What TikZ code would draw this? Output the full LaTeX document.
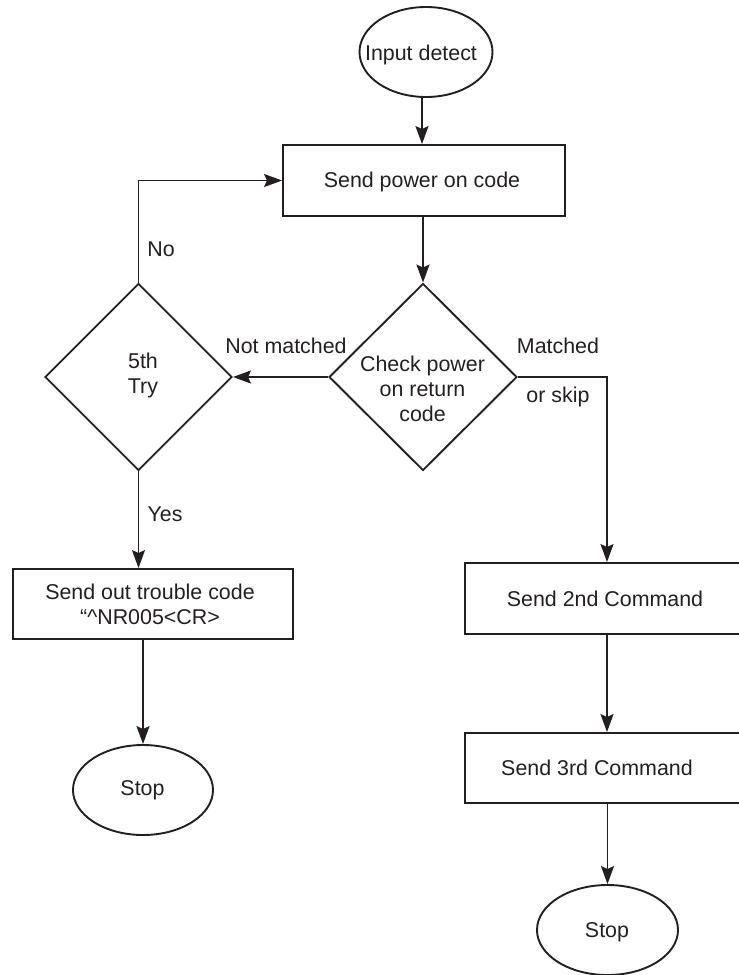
\documentclass[tikz,border=0pt]{standalone}
\usepackage{fontspec}
\setmainfont{Liberation Sans}
\usetikzlibrary{shapes.geometric,arrows.meta}
\definecolor{ink}{HTML}{231F20}
\begin{document}
\begin{tikzpicture}[x=1pt,y=-1pt,
  every node/.style={font=\fontsize{21.4}{25}\selectfont, text=ink, inner sep=0pt},
  line/.style={line width=1.9pt, draw=ink},
  flow/.style={line, -{Stealth[length=18pt,width=13pt,inset=3pt]}},
  term/.style={line, ellipse, minimum width=140pt, minimum height=90pt},
  stepbox/.style={line, rectangle, minimum width=280pt, minimum height=70pt},
  decision/.style={line, diamond, minimum width=188pt, minimum height=187pt},
  tag/.style={anchor=center}
]
\useasboundingbox (0,0) rectangle (739,975);
\clip (0,0) rectangle (739,975);

% start and main path
\node[term, minimum width=133pt] (start) at (426,52) {};
\node (startT) at (421,55) {Input detect};
\node[stepbox, minimum width=282pt, minimum height=71pt] (power) at (424,180.5) {};
\node (powerT) at (422,182) {Send power on code};
\node[decision] (check) at (423,377) {};
\node[align=center] (checkT) at (422.5,389) {Check power\\on return\\code};

% retry branch
\node[decision, minimum width=187pt] (try) at (138.5,377) {};
\node[align=center] (tryT) at (143,375) {5th\\Try};
\node[stepbox, minimum width=280pt] (trouble) at (153,604) {};
\node[align=center] (troubleT) at (150,604) {Send out trouble code\\“\textasciicircum NR005<CR>};
\node[term] (stopA) at (143,790) {};
\node (stopAT) at (142.5,790) {Stop};

% matched branch
\node[stepbox, minimum height=71pt] (cmd2) at (605,598.5) {};
\node (cmd2T) at (605,599) {Send 2nd Command};
\node[stepbox] (cmd3) at (605,768) {};
\node (cmd3T) at (597,768) {Send 3rd Command};
\node[term, minimum width=141pt] (stopB) at (607.5,930) {};
\node (stopBT) at (607,932) {Stop};

% connector labels
\node[tag] (lblNo) at (161,249) {No};
\node[tag] (lblNot) at (286,346) {Not matched};
\node[tag] (lblMatch) at (558,346) {Matched};
\node[tag] (lblSkip) at (558,397) {or skip};
\node[tag] (lblYes) at (165,514) {Yes};

% connectors
\coordinate (turnR) at (607,377);
\draw[flow] (start.south -| 422,0) -- (power.north -| 422,0);
\draw[flow] (power.south -| check.north) -- (check.north);
\draw[flow] (check.west) -- (try.east);
\draw[flow] (try.north) -- (try.north |- power.west) -- (power.west);
\draw[flow] (check.east) -- (turnR) -- (turnR |- cmd2.north);
\draw[flow] (try.south) -- (try.south |- trouble.north);
\draw[flow] (stopA.north |- trouble.south) -- (stopA.north);
\draw[flow] (turnR |- cmd2.south) -- (turnR |- cmd3.north);
\draw[flow] (stopB.north |- cmd3.south) -- (stopB.north);
\end{tikzpicture}
\end{document}
